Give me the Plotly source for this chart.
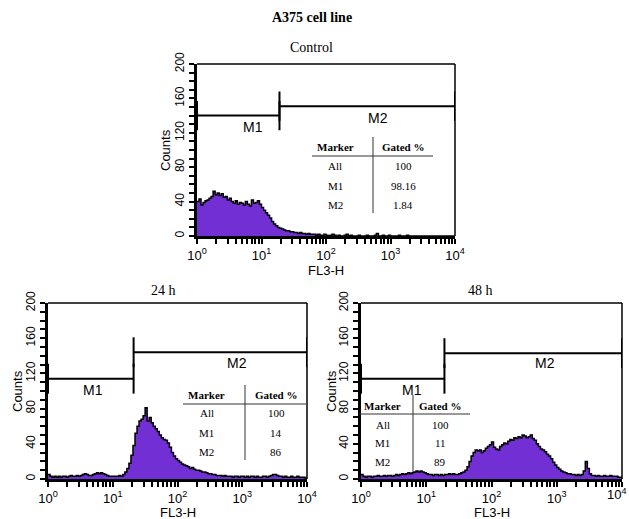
import numpy as np
import plotly.graph_objects as go

W, H = 629, 519

# FL3-H histograms: 32 channels per decade over 4 decades (10^0 .. 10^4)
control_counts = [
    40, 43, 36, 39, 41, 42, 44, 46, 52, 48, 50, 47, 49, 45, 46, 42,
    44, 40, 38, 41, 37, 39, 38, 36, 40, 37, 35, 42, 38, 39, 41, 37,
    33, 30, 27, 24, 21, 17, 14, 12, 10, 9, 8, 7, 6, 6, 5, 5,
    4, 4, 3, 4, 3, 3, 2, 3, 2, 2, 2, 1, 2, 1, 1, 2,
    1, 0, 1, 2, 1, 0, 1, 0, 0, 1, 2, 0, 1, 0, 0, 0,
    1, 0, 0, 0, 1, 0, 0, 0, 1, 3, 0, 0, 1, 0, 0, 1,
    0, 0, 0, 0, 1, 0, 0, 0, 1, 0, 0, 0, 0, 0, 0, 0,
    0, 0, 0, 0, 0, 0, 0, 0, 0, 0, 0, 0, 0, 0, 0, 0,
]
h24_counts = [
    5, 3, 2, 3, 2, 3, 2, 3, 3, 2, 3, 4, 3, 3, 4, 3,
    4, 5, 6, 5, 4, 4, 5, 6, 7, 6, 7, 6, 5, 4, 3, 3,
    3, 3, 3, 4, 3, 5, 8, 12, 18, 27, 38, 52, 60, 66, 68, 72,
    81, 66, 70, 64, 60, 57, 54, 50, 47, 45, 44, 41, 36, 30, 26, 23,
    21, 19, 17, 16, 15, 14, 12, 13, 11, 10, 10, 9, 8, 8, 7, 6,
    6, 5, 5, 4, 4, 4, 3, 4, 3, 3, 3, 2, 3, 3, 2, 3,
    3, 2, 3, 2, 3, 3, 2, 3, 2, 2, 3, 3, 2, 3, 4, 5,
    5, 4, 3, 3, 2, 3, 2, 2, 3, 2, 2, 3, 2, 2, 2, 1,
]
h48_counts = [
    5, 3, 2, 3, 3, 2, 3, 3, 4, 3, 3, 4, 3, 4, 4, 3,
    4, 5, 4, 5, 6, 5, 6, 7, 6, 7, 8, 9, 8, 9, 8, 7,
    6, 5, 5, 4, 5, 5, 4, 5, 4, 5, 5, 6, 5, 6, 5, 5,
    6, 7, 8, 10, 14, 20, 26, 30, 33, 32, 33, 30, 32, 35, 37, 39,
    42, 36, 34, 33, 37, 39, 41, 40, 43, 45, 44, 47, 46, 48, 47, 50,
    49, 47, 48, 50, 46, 44, 40, 37, 34, 33, 31, 28, 26, 23, 19, 16,
    13, 11, 9, 8, 7, 6, 6, 5, 5, 4, 5, 4, 5, 9, 20, 12,
    6, 4, 4, 3, 4, 3, 3, 4, 3, 3, 4, 3, 3, 3, 2, 2,
]

panel_titles = ["Control", "24 h", "48 h"]
markers = ["All", "M1", "M2"]
gated_control = ["100", "98.16", "1.84"]
gated_24h = ["100", "14", "86"]
gated_48h = ["100", "11", "89"]
gate_split = [19, 21, 19]          # FL3-H value separating M1 and M2
fl3_min, fl3_max = 1, 10000
decade_ticks = [1, 10, 100, 1000, 10000]
decade_text = ["10<sup>0</sup>", "10<sup>1</sup>", "10<sup>2</sup>",
               "10<sup>3</sup>", "10<sup>4</sup>"]
count_ticks = [0, 40, 80, 120, 160, 200]

channels_per_decade = 32
edges = fl3_min * 10 ** (np.arange(len(control_counts) + 1) / channels_per_decade)

PURPLE = "#7230D4"
SANS = "Liberation Sans, Arial, sans-serif"
SERIF = "Liberation Serif, Times New Roman, serif"
XTICK_SIZE = 13


def px(x):
    return x / W


def py(y):
    return 1 - y / H


def label(text, x, y, family, size, angle=0, xanchor="center"):
    return dict(text=text, x=px(x), y=py(y), xref="paper", yref="paper",
                xanchor=xanchor, yanchor="middle", showarrow=False,
                textangle=angle, font=dict(family=family, size=size, color="black"))


# pixel boxes (left, right, top, bottom) and per-panel layout details
panels = [
    dict(counts=control_counts, gated=gated_control, split=gate_split[0],
         box=(197, 455, 64, 236), levels=(140, 151),
         m1=(253, 127), m2=(378, 118), title=(311, 48),
         counts_x=166, fl3_gap=34,
         table=dict(header_y=147, hline=(312, 433, 156), vline=(373, 137, 213),
                    cols=(335, 403), rows=(166, 186, 205))),
    dict(counts=h24_counts, gated=gated_24h, split=gate_split[1],
         box=(48, 307, 303, 479), levels=(114, 144),
         m1=(93, 390), m2=(237, 363), title=(163, 290),
         counts_x=17, fl3_gap=33,
         table=dict(header_y=395, hline=(183, 306, 404), vline=(245, 385, 460),
                    cols=(207, 276), rows=(413, 433, 452))),
    dict(counts=h48_counts, gated=gated_48h, split=gate_split[2],
         box=(361, 622, 303, 479), levels=(114, 143),
         m1=(412, 390), m2=(545, 363), title=(481, 290),
         counts_x=331, fl3_gap=33,
         table=dict(header_y=406, hline=(359, 470, 414), vline=(413, 395, 472),
                    cols=(383, 440), rows=(425, 443, 462))),
]

fig = go.Figure()
annotations = []
shapes = []
tick_half = 17

for i, p in enumerate(panels):
    sfx = "" if i == 0 else str(i + 1)
    xa, ya = "x" + sfx, "y" + sfx
    counts = list(p["counts"])
    last_panel = i == len(panels) - 1

    # filled step histogram
    fig.add_trace(go.Scatter(
        x=edges, y=counts + [counts[-1]], mode="lines", line_shape="hv",
        line=dict(color="black", width=1.5), fill="tozeroy", fillcolor=PURPLE,
        xaxis=xa, yaxis=ya, showlegend=False, hoverinfo="skip"))

    # marker gates M1 and M2
    s = p["split"]
    l1, l2 = p["levels"]
    gx = [fl3_min, s, None, fl3_min, fl3_min, None, s, s, None,
          s, fl3_max, None, s, s, None, fl3_max, fl3_max]
    gy = [l1, l1, None, l1 - tick_half, l1 + tick_half, None, l1 - tick_half, l1 + tick_half, None,
          l2, l2, None, l2 - tick_half, l2 + tick_half, None, l2 - tick_half, l2 + tick_half]
    fig.add_trace(go.Scatter(
        x=gx, y=gy, mode="lines", line=dict(color="black", width=2),
        xaxis=xa, yaxis=ya, showlegend=False, hoverinfo="skip", cliponaxis=False))

    left, right, top, bottom = p["box"]
    # the right-most panel ends at the page edge: its last decade label is
    # right-aligned as a separate annotation so it stays inside the page
    xtext = list(decade_text)
    if last_panel:
        xtext[-1] = ""
        annotations.append(label(decade_text[-1], W, bottom + 15, SANS, XTICK_SIZE,
                                 xanchor="right"))
    fig.layout["xaxis" + sfx] = dict(
        type="log", range=[0, 4], domain=[px(left), px(right)], anchor=ya,
        automargin=False,
        showline=True, linewidth=3, linecolor="black", mirror=False,
        ticks="outside", ticklen=5, tickwidth=2, tickcolor="black",
        tickvals=decade_ticks, ticktext=xtext,
        minor=dict(ticks="outside", ticklen=5, tickwidth=1.5, tickcolor="black",
                   tickvals=[k * d for d in decade_ticks[:-1] for k in range(2, 10)]),
        tickfont=dict(family=SANS, size=XTICK_SIZE, color="black"),
        showgrid=False, zeroline=False, fixedrange=True)
    fig.layout["yaxis" + sfx] = dict(
        range=[0, 200], domain=[py(bottom), py(top)], anchor=xa,
        automargin=False, ticklabeloverflow="allow",
        showline=True, linewidth=3, linecolor="black",
        ticks="outside", ticklen=5, tickwidth=2, tickcolor="black",
        tickvals=count_ticks, tickangle=-90,
        minor=dict(ticks="outside", ticklen=5, tickwidth=2, tickcolor="black", dtick=10),
        tickfont=dict(family=SANS, size=12, color="black"),
        showgrid=False, zeroline=False, fixedrange=True)

    # top and right frame
    shapes.append(dict(type="line", xref=xa + " domain", yref=ya + " domain",
                       x0=0, x1=1, y0=1, y1=1, line=dict(color="black", width=1.5)))
    shapes.append(dict(type="line", xref=xa + " domain", yref=ya + " domain",
                       x0=1, x1=1, y0=0, y1=1, line=dict(color="black", width=1.5)))

    # axis titles
    annotations.append(label("FL3-H", (left + right) / 2, bottom + p["fl3_gap"], SANS, 13))
    annotations.append(label("Counts", p["counts_x"], (top + bottom) / 2, SANS, 13, -90))
    # panel title
    annotations.append(label(panel_titles[i], p["title"][0], p["title"][1], SERIF, 14))
    # gate labels
    annotations.append(label("M1", p["m1"][0], p["m1"][1], SANS, 14))
    annotations.append(label("M2", p["m2"][0], p["m2"][1], SANS, 14))

    # gated-percentage table
    t = p["table"]
    c1, c2 = t["cols"]
    annotations.append(label("<b>Marker</b>", c1, t["header_y"], SERIF, 11))
    annotations.append(label("<b>Gated %</b>", c2, t["header_y"], SERIF, 11))
    for r, ry in enumerate(t["rows"]):
        annotations.append(label(markers[r], c1, ry, SERIF, 11))
        annotations.append(label(p["gated"][r], c2, ry, SERIF, 11))
    hx0, hx1, hy = t["hline"]
    vx, vy0, vy1 = t["vline"]
    shapes.append(dict(type="line", xref="paper", yref="paper",
                       x0=px(hx0), x1=px(hx1), y0=py(hy), y1=py(hy),
                       line=dict(color="#333333", width=1)))
    shapes.append(dict(type="line", xref="paper", yref="paper",
                       x0=px(vx), x1=px(vx), y0=py(vy0), y1=py(vy1),
                       line=dict(color="#333333", width=1)))

annotations.append(label("<b>A375 cell line</b>", 312, 18, SERIF, 14))

fig.update_layout(
    template="none",
    width=W, height=H, margin=dict(l=0, r=0, t=0, b=0, pad=0),
    paper_bgcolor="white", plot_bgcolor="white",
    annotations=annotations, shapes=shapes, showlegend=False)

fig.write_html("out.html")
